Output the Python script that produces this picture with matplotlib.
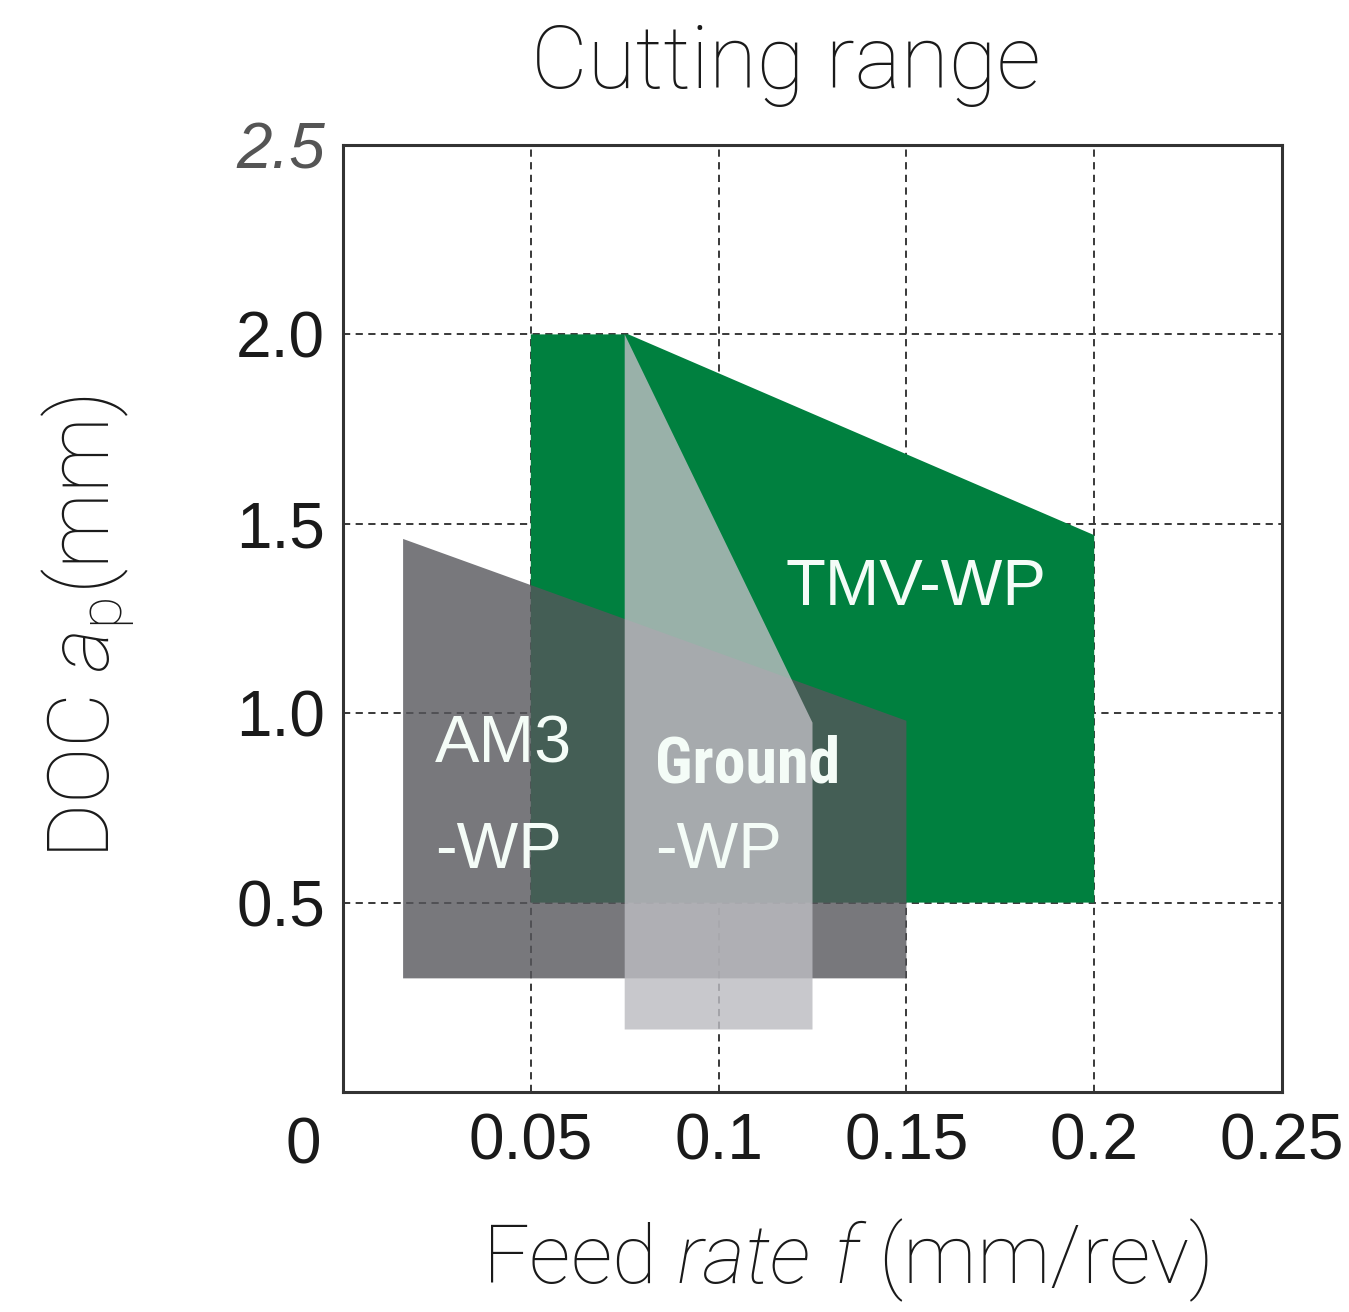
import matplotlib
matplotlib.use('Agg')
import matplotlib.pyplot as plt
from matplotlib.transforms import offset_copy

plt.rcParams['font.family'] = ['Liberation Sans', 'DejaVu Sans']
plt.rcParams['mathtext.fontset'] = 'custom'
plt.rcParams['mathtext.rm'] = 'Roboto:light'
plt.rcParams['mathtext.it'] = 'Roboto:italic:light'

# ---- data ----
tmv_x = [0.05, 0.05, 0.076, 0.2, 0.2]
tmv_y = [0.5, 2.0, 2.0, 1.47, 0.5]
am3_x = [0.016, 0.016, 0.15, 0.15]
am3_y = [0.3, 1.46, 0.98, 0.3]
ground_x = [0.075, 0.075, 0.125, 0.125]
ground_y = [0.165, 2.0, 0.975, 0.165]

x_ticks = [0.05, 0.1, 0.15, 0.2, 0.25]
x_tick_labels = ['0.05', '0.1', '0.15', '0.2', '0.25']
y_ticks = [0.5, 1.0, 1.5, 2.0, 2.5]
y_tick_labels = ['0.5', '1.0', '1.5', '2.0', '2.5']

GREEN = '#00803f'
AM3_COL = '#56565b'
GROUND_COL = '#bcbcc1'
LABEL_COL = '#f4fcf7'

fig = plt.figure(figsize=(13.49, 13.12), dpi=100)
ax = fig.add_axes([343 / 1349, 1 - 1092 / 1312, (1282 - 343) / 1349, (1092 - 145) / 1312])

ax.set_xlim(0, 0.25)
ax.set_ylim(0, 2.5)

ax.fill(tmv_x, tmv_y, color=GREEN, lw=0, zorder=1)
ax.fill(am3_x, am3_y, color=AM3_COL, alpha=0.8, lw=0, zorder=2)
ax.fill(ground_x, ground_y, color=GROUND_COL, alpha=0.82, lw=0, zorder=3)

ax.set_xticks(x_ticks)
ax.set_xticklabels(x_tick_labels)
ax.set_yticks(y_ticks)
ax.set_yticklabels(y_tick_labels)
ax.set_axisbelow(True)
ax.grid(True, linestyle=(0, (4, 3)), linewidth=1.3, color='#2a2a2a')

ax.tick_params(axis='both', length=0, labelsize=46, colors='#1a1a1a')
ax.tick_params(axis='x', pad=15)
ax.tick_params(axis='y', pad=13)
lab25 = ax.get_yticklabels()[-1]
lab25.set_style('italic')
lab25.set_color('#555555')

for s in ax.spines.values():
    s.set_linewidth(2.2)
    s.set_color('#333333')
    s.set_zorder(6)

# origin label "0"
ax.text(0, 0, '0', transform=offset_copy(ax.transData, fig, x=-40, y=-71, units='dots'),
        ha='center', va='baseline', fontsize=46, color='#1a1a1a')

# region labels
ax.text(0.0245, 0.871, 'AM3', ha='left', va='baseline', fontsize=48, color=LABEL_COL, zorder=7)
ax.text(0.0245, 0.591, '-WP', ha='left', va='baseline', fontsize=47, color=LABEL_COL, zorder=7)
ax.text(0.083, 0.818, 'Ground', ha='left', va='baseline', fontsize=46, color=LABEL_COL,
        family=['Roboto Condensed', 'Roboto', 'Liberation Sans'], weight='bold', zorder=7)
ax.text(0.083, 0.591, '-WP', ha='left', va='baseline', fontsize=47, color=LABEL_COL, zorder=7)
ax.text(0.1177, 1.286, 'TMV-WP', ha='left', va='baseline', fontsize=47, color=LABEL_COL, zorder=7)

# title and axis labels
fig.text(786 / 1349, 1 - 88 / 1312, 'Cutting range', ha='center', va='baseline',
         fontsize=63, color='#1a1a1a', family=['Roboto', 'Liberation Sans'], weight='light')
fig.text(846 / 1349, 1 - 1283 / 1312, r'Feed $\mathit{rate\ f}$ (mm/rev)', ha='center',
         va='baseline', fontsize=59, color='#1a1a1a', family=['Roboto', 'Liberation Sans'],
         weight='light')
fig.text(88 / 1349, 1 - 627 / 1312, r'DOC $\mathit{a}_\mathrm{p}$(mm)', ha='center',
         va='center', rotation=90, fontsize=61, color='#1a1a1a',
         family=['Roboto', 'Liberation Sans'], weight='light')

fig.savefig('out.png', dpi=100)
